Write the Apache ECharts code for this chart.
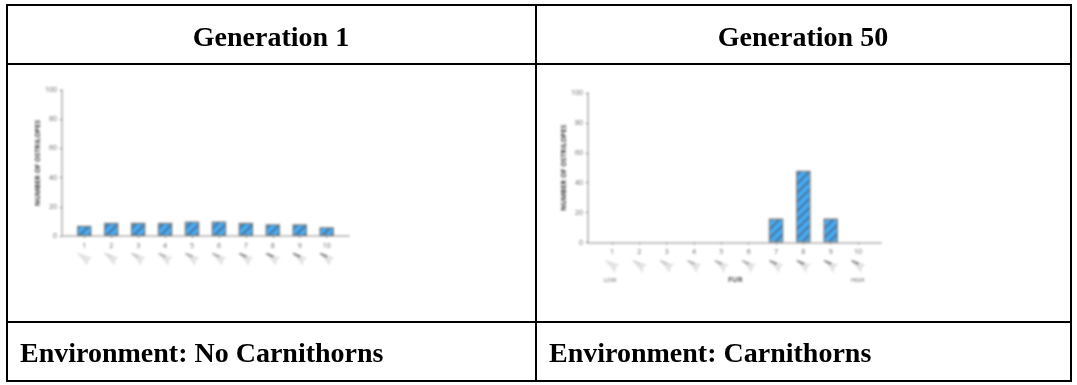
<!DOCTYPE html>
<html>
<head>
<meta charset="utf-8">
<style>
html,body{margin:0;padding:0;background:#fff;width:1077px;height:385px;overflow:hidden}
#plots,#frame{position:absolute;left:0;top:0;width:1077px;height:385px}
#plots{filter:blur(1.1px)}
</style>
<script src="https://cdn.jsdelivr.net/npm/echarts@6/dist/echarts.min.js"></script>
</head>
<body>
<div id="plots"></div>
<div id="frame"></div>
<script>
const furLevels = [1, 2, 3, 4, 5, 6, 7, 8, 9, 10];
const gen1Counts = [7, 9, 9, 9, 10, 10, 9, 8, 8, 6];
const gen50Counts = [0, 0, 0, 0, 0, 0, 16, 48, 16, 0];
const yTicks = [0, 20, 40, 60, 80, 100];
const furShade = [0.03, 0.1, 0.2, 0.3, 0.35, 0.35, 0.5, 0.55, 0.55, 0.55];
const iconRow = -16;
const yAxisTitle = 'NUMBER OF OSTRILOPES';
const headerTitles = ['Generation 1', 'Generation 50'];
const footerTitles = ['Environment: No Carnithorns', 'Environment: Carnithorns'];
const furScale = ['LOW', 'FUR', 'HIGH'];

function hatch() {
  const c = document.createElement('canvas');
  c.width = c.height = 9;
  const g = c.getContext('2d');
  g.fillStyle = '#45aef8';
  g.fillRect(0, 0, 9, 9);
  g.strokeStyle = '#4a7aa6';
  g.lineWidth = 2.4;
  [-9, 0, 9].forEach(function (o) {
    g.beginPath();
    g.moveTo(o - 1, 10);
    g.lineTo(o + 10, -1);
    g.stroke();
  });
  return c;
}
const pattern = { image: hatch(), repeat: 'repeat' };
const BODY = 'path://M0 0 L16 5 L12.5 8 L11 14 L7 8.5 Z';
const FUR = 'path://M1 0 L9 3 L8 5.5 L0 1.5 Z';

function xAxis(idx, min, max) {
  return {
    type: 'value', gridIndex: idx, min: min, max: max,
    axisLine: { show: true, onZero: false, lineStyle: { color: '#c4c4c4', width: 2 } },
    axisTick: { show: true, length: 2, customValues: furLevels, lineStyle: { color: '#888', width: 1 } },
    axisLabel: { customValues: furLevels, fontSize: 7, color: '#666', margin: 6, fontFamily: 'Open Sans', showMinLabel: true, showMaxLabel: true },
    splitLine: { show: false }
  };
}
function yAxis(idx, gap) {
  return {
    type: 'value', gridIndex: idx, min: 0, max: 100, interval: 20,
    name: yAxisTitle, nameLocation: 'middle', nameGap: gap, nameRotate: 90,
    nameTextStyle: { fontSize: 7, fontWeight: 'bold', color: '#444', fontFamily: 'Open Sans' },
    axisLine: { show: true, lineStyle: { color: '#c4c4c4', width: 2 } },
    axisTick: { show: true, length: 2, lineStyle: { color: '#777', width: 1 } },
    axisLabel: { fontSize: 7, color: '#666', margin: 5, fontFamily: 'Open Sans', customValues: yTicks },
    splitLine: { show: false }
  };
}
function seriesFor(idx, counts) {
  return [
    {
      type: 'bar', xAxisIndex: idx, yAxisIndex: idx, barWidth: 14.5,
      data: furLevels.map(function (f, i) { return [f, counts[i] > 0 ? counts[i] : '-']; }),
      itemStyle: { color: pattern, borderColor: '#808080', borderWidth: 1.3 },
      silent: true, animation: false
    },
    {
      type: 'scatter', xAxisIndex: idx, yAxisIndex: idx, clip: false, symbol: BODY, symbolSize: [15, 13],
      data: furLevels.map(function (f) { return [f, iconRow]; }),
      itemStyle: { color: '#dcdcdc' }, silent: true, animation: false
    },
    {
      type: 'scatter', xAxisIndex: idx, yAxisIndex: idx, clip: false, symbol: FUR, symbolSize: [8, 5], symbolOffset: [-3, -4],
      data: furLevels.map(function (f, i) {
        return { value: [f, iconRow], itemStyle: { color: '#333', opacity: furShade[i] } };
      }),
      silent: true, animation: false
    }
  ];
}

const plots = echarts.init(document.getElementById('plots'), null, { renderer: 'canvas' });
plots.setOption({
  animation: false,
  grid: [
    { left: 62, top: 90, width: 287, height: 146 },
    { left: 588, top: 93, width: 293, height: 149.5 }
  ],
  xAxis: [xAxis(0, 0.172, 10.83), xAxis(1, 0.122, 10.84)],
  yAxis: [yAxis(0, 21), yAxis(1, 20)],
  series: seriesFor(0, gen1Counts).concat(seriesFor(1, gen50Counts)),
  graphic: [
    { type: 'text', left: 604, top: 277, style: { text: furScale[0], fontSize: 5.5, fill: '#555', fontFamily: 'Open Sans' } },
    { type: 'text', left: 728, top: 276, style: { text: furScale[1], fontSize: 7.5, fontWeight: 'bold', fill: '#555', fontFamily: 'Open Sans' } },
    { type: 'text', left: 851, top: 277, style: { text: furScale[2], fontSize: 5.5, fill: '#555', fontFamily: 'Open Sans' } }
  ]
});

const frame = echarts.init(document.getElementById('frame'), null, { renderer: 'canvas' });
const L = 7, M = 536, R = 1071, T = 5, H = 64, F = 322, B = 381;
function rule(x1, y1, x2, y2) {
  return { type: 'line', shape: { x1: x1, y1: y1, x2: x2, y2: y2 }, style: { stroke: '#000', lineWidth: 2, lineCap: 'square' }, silent: true };
}
function label(text, x, y, align) {
  return { type: 'text', x: x, y: y, style: { text: text, x: 0, y: 0, align: align, verticalAlign: 'middle', fontFamily: 'Liberation Serif', fontWeight: 'bold', fontSize: 28, fill: '#000' } };
}
frame.setOption({
  animation: false,
  graphic: [
    rule(L, T, R, T), rule(L, H, R, H), rule(L, F, R, F), rule(L, B, R, B),
    rule(L, T, L, B), rule(M, T, M, B), rule(R, T, R, B),
    label(headerTitles[0], 271, 39, 'center'),
    label(headerTitles[1], 803, 39, 'center'),
    label(footerTitles[0], 20, 355, 'left'),
    label(footerTitles[1], 549, 355, 'left')
  ]
});
</script>
</body>
</html>
